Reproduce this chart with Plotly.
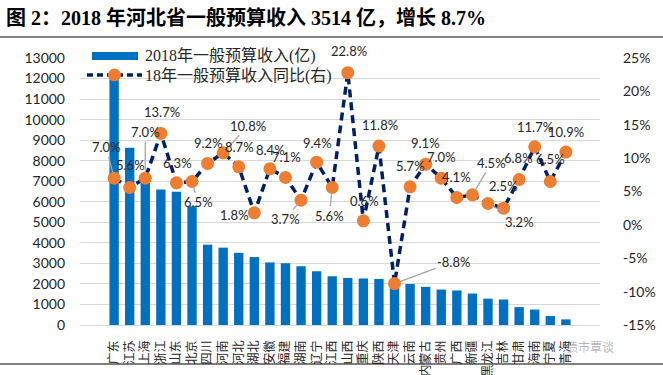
import plotly.graph_objects as go

provinces = ["广东", "江苏", "上海", "浙江", "山东", "北京", "四川", "河南", "河北", "湖北",
             "安徽", "福建", "湖南", "辽宁", "江西", "山西", "重庆", "陕西", "天津", "云南",
             "内蒙古", "贵州", "广西", "新疆", "黑龙江", "吉林", "甘肃", "海南", "宁夏", "青海"]
revenue_2018 = [12103, 8630, 7108, 6598, 6485, 5786, 3911, 3766, 3514, 3307,
                3048, 3007, 2860, 2616, 2373, 2292, 2266, 2243, 2106, 1994,
                1858, 1727, 1681, 1531, 1283, 1241, 871, 752, 436, 273]
growth_2018 = [7.0, 5.6, 7.0, 13.7, 6.3, 6.5, 9.2, 10.8, 8.7, 1.8,
               8.4, 7.1, 3.7, 9.4, 5.6, 22.8, 0.6, 11.8, -8.8, 5.7,
               9.1, 7.0, 4.1, 4.5, 3.2, 2.5, 6.8, 11.7, 6.5, 10.9]
left_ticks = list(range(0, 13001, 1000))
left_tick_labels = [str(v) for v in left_ticks]
right_ticks = list(range(-15, 26, 5))
right_tick_labels = [f"{v}%" for v in right_ticks]

bar_name = "2018年一般预算收入(亿)"
line_name = "18年一般预算收入同比(右)"
title_text = "图 2：2018 年河北省一般预算收入 3514 亿，增长 8.7%"

# label placement (pixel offsets from point, leader line flag)
label_pos = [(-8, -31, True), (1, -23, False), (0, -46, True), (1, -21, False), (1, -20, False),
             (6, 21, True), (1, -20, False), (25, -27, True), (1, -20, False), (-20, 2, False),
             (1, -19, False), (1, -20, False), (-16, 19, True), (1, -19, False), (-3, 28, True),
             (1, -22, False), (1, -20, False), (1, -21, False), (59, -22, True), (0, -21, False),
             (0, -21, False), (0, -21, False), (0, -21, False), (19, -32, True), (32, 18, True),
             (0, -22, False), (-1, -21, False), (0, -20, False), (0, -22, False), (0, -20, False)]

BAR = "#0070C0"
NAVY = "#002060"
ORANGE = "#ED7D31"
GRID = "#D9D9D9"
TXT = "#262626"
NUMFONT = "Lato, Noto Sans CJK SC, sans-serif"
CJK = "Noto Sans CJK SC"
SERIF = "Liberation Serif, Noto Sans CJK SC, serif"


def px(v):
    return (v - 80) / 520


def py(v):
    return (325 - v) / 267


fig = go.Figure()
fig.add_trace(go.Bar(x=provinces, y=revenue_2018, name=bar_name, marker_color=BAR,
                     marker_line_width=0, yaxis="y"))
fig.add_trace(go.Scatter(x=provinces, y=growth_2018, name=line_name, yaxis="y2",
                         mode="lines+markers",
                         line=dict(color=NAVY, width=3.5, dash="8px,5px"),
                         marker=dict(color=ORANGE, size=13, line=dict(width=0))))

annotations = []
for p, g, (dx, dy, leader) in zip(provinces, growth_2018, label_pos):
    txt = f"{g:.1f}%"
    if leader:
        annotations.append(dict(x=p, y=g, xref="x", yref="y2", text=txt, showarrow=True,
                                ax=dx, ay=dy, arrowhead=0, arrowwidth=1.3, arrowcolor="#A6A6A6",
                                standoff=5, font=dict(family=NUMFONT, size=13, color=TXT)))
    else:
        annotations.append(dict(x=p, y=g, xref="x", yref="y2", text=txt, showarrow=False,
                                xshift=dx, yshift=-dy, font=dict(family=NUMFONT, size=13, color=TXT)))

# title
annotations.append(dict(x=px(4), y=py(18), xref="paper", yref="paper",
                        text="<b>" + title_text + "</b>", showarrow=False,
                        xanchor="left", yanchor="middle",
                        font=dict(family=SERIF, size=20, color="#000000")))
# legend texts
annotations.append(dict(x=px(143), y=py(56), xref="paper", yref="paper",
                        text=bar_name, showarrow=False, xanchor="left", yanchor="middle",
                        font=dict(family=SERIF, size=16, color=TXT)))
annotations.append(dict(x=px(143), y=py(75), xref="paper", yref="paper",
                        text=line_name, showarrow=False, xanchor="left", yanchor="middle",
                        font=dict(family=SERIF, size=16, color=TXT)))
# watermark
annotations.append(dict(x=px(590), y=py(346), xref="paper", yref="paper",
                        text="债市覃谈", showarrow=False, xanchor="center", yanchor="middle",
                        font=dict(family=CJK, size=12, color="rgba(120,120,120,0.55)")))

shapes = [
    dict(type="line", xref="paper", yref="paper", x0=px(0), x1=px(663), y0=py(37), y1=py(37),
         line=dict(color="#000000", width=1.2), layer="above"),
    dict(type="line", xref="paper", yref="paper", x0=px(0), x1=px(663), y0=py(364), y1=py(364),
         line=dict(color="#000000", width=1.2), layer="above"),
    dict(type="rect", xref="paper", yref="paper", x0=px(92), x1=px(138), y0=py(60), y1=py(52),
         fillcolor=BAR, line=dict(width=0), layer="above"),
    dict(type="line", xref="paper", yref="paper", x0=px(87), x1=px(142), y0=py(75), y1=py(75),
         line=dict(color=NAVY, width=3.5, dash="6px,4px"), layer="above"),
    dict(type="circle", xref="paper", yref="paper", xsizemode="pixel", ysizemode="pixel",
         xanchor=px(114.5), yanchor=py(75), x0=-6.5, x1=6.5, y0=-6.5, y1=6.5,
         fillcolor=ORANGE, line=dict(width=0), layer="above"),
]

fig.update_layout(
    width=663, height=375,
    margin=dict(l=80, r=63, t=58, b=50, autoexpand=False),
    paper_bgcolor="white", plot_bgcolor="white",
    showlegend=False,
    bargap=0.4,
    annotations=annotations,
    shapes=shapes,
    xaxis=dict(type="category", tickangle=-90, tickfont=dict(family=CJK, size=12, color=TXT),
               showgrid=False, showline=False, ticks="", ticklabelstandoff=12),
    yaxis=dict(range=[0, 13000], tickmode="array", tickvals=left_ticks, ticktext=left_tick_labels,
               showgrid=True, gridcolor=GRID, gridwidth=1,
               zeroline=True, zerolinecolor=GRID, zerolinewidth=1, showline=False,
               tickfont=dict(family=NUMFONT, size=14, color=TXT), ticklabelstandoff=14),
    yaxis2=dict(range=[-15, 25], tickmode="array", tickvals=right_ticks, ticktext=right_tick_labels,
                overlaying="y", side="right",
                showgrid=False, zeroline=False, showline=False,
                tickfont=dict(family=NUMFONT, size=14, color=TXT), ticklabelstandoff=22),
)

fig.write_html("out.html",
               config={"displayModeBar": False},
               post_script="document.body.style.margin='0';document.body.style.padding='0';")
